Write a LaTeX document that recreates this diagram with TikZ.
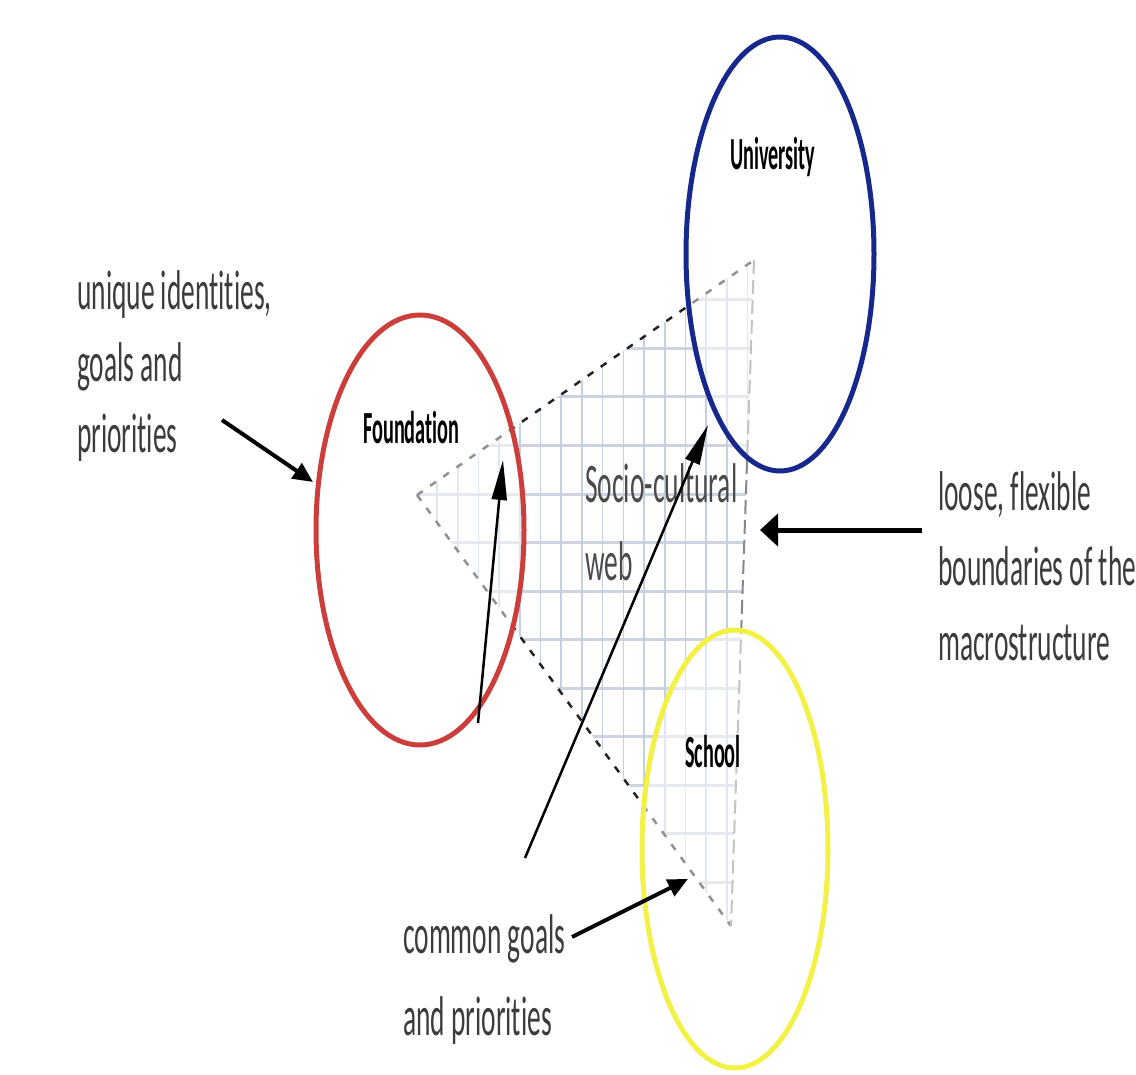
\documentclass[tikz,border=0pt]{standalone}
\usepackage{fontspec}
\setmainfont{Carlito}
\newfontfamily\lblfont[FakeStretch=0.49,Ligatures=NoCommon]{Carlito}
\newfontfamily\innerfont[FakeStretch=0.44,Ligatures=NoCommon]{Carlito}
\usetikzlibrary{arrows.meta,shapes.geometric}
\definecolor{cred}{RGB}{204,62,60}
\definecolor{cblue}{RGB}{22,40,140}
\definecolor{cyel}{RGB}{243,240,70}
\definecolor{gridh}{RGB}{205,211,222}
\definecolor{gridv}{RGB}{196,208,226}
\definecolor{txt}{RGB}{60,60,60}
\definecolor{webtxt}{RGB}{75,75,75}
\definecolor{edge}{RGB}{35,35,35}
\definecolor{redge}{RGB}{135,135,135}
\tikzset{
  lab/.style={font=\lblfont\fontsize{56}{72}\selectfont, text=txt, align=left, anchor=base west, inner sep=0pt},
  inlab/.style={font=\innerfont\bfseries\fontsize{46}{50}\selectfont, text=black, anchor=base west, inner sep=0pt},
  ring/.style={draw, ellipse, line width=5pt, fill=white, fill opacity=0.5, draw opacity=1, inner sep=0pt},
  tridash/.style={draw=edge, line width=2.5pt, dash pattern=on 7pt off 9pt},
  rdash/.style={draw=redge, line width=2pt, dash pattern=on 14pt off 6pt},
  bigarr/.style={-{Triangle[length=20pt,width=18pt]}, line width=4pt},
  thinarr/.style={-{Triangle[length=40pt,width=15pt]}, line width=2.5pt},
  widearr/.style={-{Triangle[length=18pt,width=32pt]}, line width=5pt}
}
\begin{document}
\begin{tikzpicture}[x=1pt,y=-1pt]
\useasboundingbox (0,0) rectangle (1136,1075);
% triangle (socio-cultural web)
\coordinate (L) at (417,495);
\coordinate (T) at (754,260);
\coordinate (B) at (731,926);
\begin{scope}
  \clip (L) -- (T) -- (B) -- cycle;
  \foreach \i in {0,...,12} \draw[gridh, line width=3pt] (400,{300+48.5*\i}) -- (780,{300+48.5*\i});
  \foreach \i in {0,...,15} \draw[gridv, line width=1.6pt] ({437+20.7*\i},240) -- ({437+20.7*\i},950);
\end{scope}
\path[tridash] (L) -- (T);
\path[tridash] (L) -- (B);
\path[rdash] (T) -- (B);
% circles
\node[ring, draw=cred, minimum width=208pt, minimum height=430pt] (found) at (420,530) {};
\node[ring, draw=cblue, minimum width=188pt, minimum height=434pt] (univ) at (780,254) {};
\node[ring, draw=cyel, minimum width=186pt, minimum height=438pt] (school) at (735,849) {};
% inner labels
\node[inlab] (foundlab) at (363,443) {Foundation};
\node[inlab] (univlab) at (730,170) {University};
\node[inlab] (schoollab) at (685,767) {School};
\node[lab, font=\lblfont\fontsize{56}{78}\selectfont, text=webtxt] (web) at (585,580) {Socio-cultural\\web};
% outer labels (anchored at the baseline of the last line)
\node[lab] (uniq) at (77,453) {unique identities,\\goals and\\priorities};
\node[lab, font=\lblfont\fontsize{56}{75}\selectfont] (loose) at (938,660) {loose, flexible\\boundaries of the\\macrostructure};
\node[lab, font=\lblfont\fontsize{56}{82}\selectfont] (common) at (403,1035) {common goals\\and priorities};
% arrow end points
\coordinate (a1s) at (222,420);
\coordinate (a1e) at (313,482);
\coordinate (a2s) at (478,723);
\coordinate (a2e) at (503,460);
\coordinate (a3s) at (525,858);
\coordinate (a3e) at (708,425);
\coordinate (a4s) at (922,530);
\coordinate (a4e) at (760,530);
\coordinate (a5s) at (572,937);
\coordinate (a5e) at (688,879);
\draw[bigarr] (a1s) -- (a1e);
\draw[thinarr] (a2s) -- (a2e);
\draw[thinarr] (a3s) -- (a3e);
\draw[widearr] (a4s) -- (a4e);
\draw[bigarr] (a5s) -- (a5e);
\end{tikzpicture}
\end{document}
